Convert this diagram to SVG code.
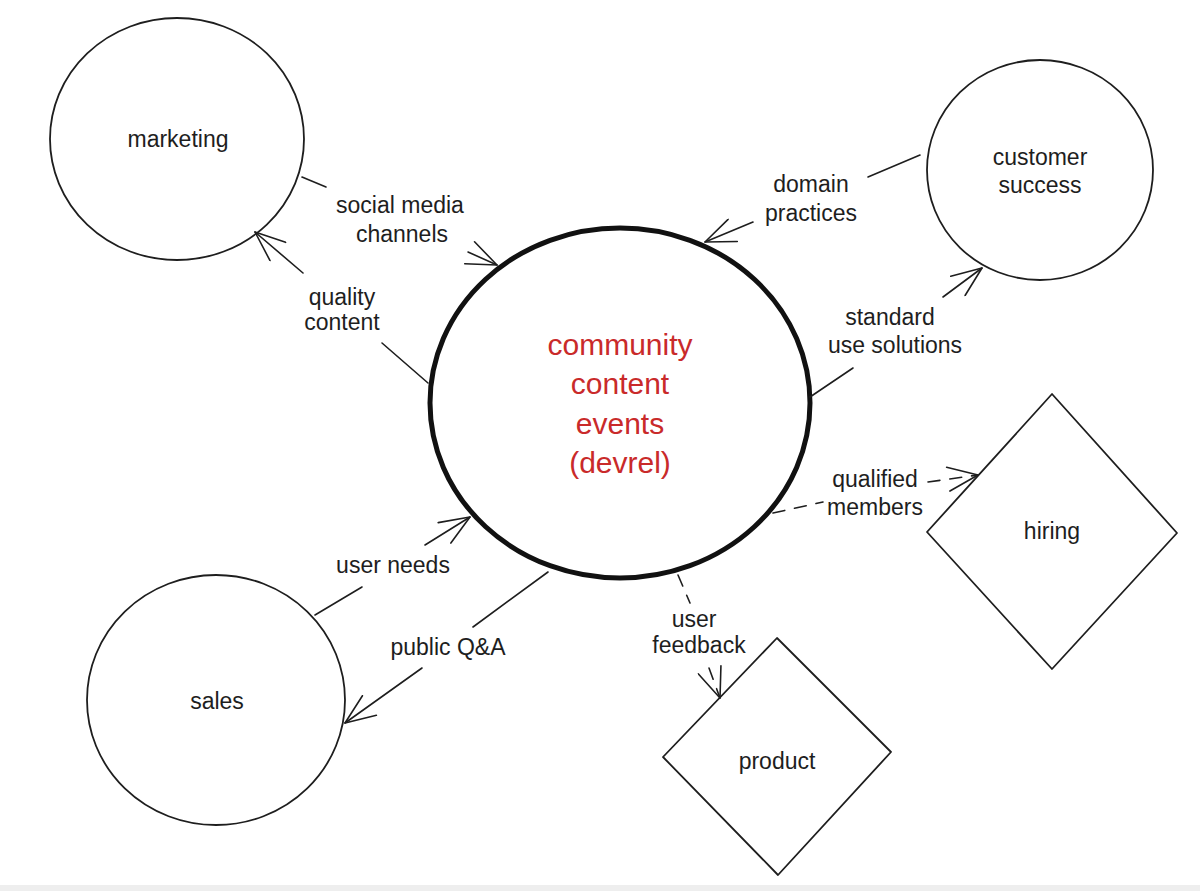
<svg xmlns="http://www.w3.org/2000/svg" width="1200" height="891" viewBox="0 0 1200 891">
  <style>
    .node { fill: none; stroke: #1e1e1e; stroke-width: 1.8; stroke-linejoin: round; }
    .core { fill: none; stroke: #111; stroke-width: 5; }
    .lbl { font-family: "Liberation Sans", "Noto Sans", sans-serif; font-size: 23px; fill: #1e1e1e; text-anchor: middle; }
    .red { font-family: "Liberation Sans", "Noto Sans", sans-serif; font-size: 30px; fill: #c92a2a; text-anchor: middle; }
    .edge { fill: none; stroke: #1e1e1e; stroke-width: 1.6; stroke-linecap: round; }
    .dash { stroke-dasharray: 12 10; }
  </style>
  <defs>
    <marker id="arrow" markerUnits="userSpaceOnUse" viewBox="0 0 34 26" markerWidth="34" markerHeight="26" refX="32" refY="13" orient="auto">
      <path d="M2,1 L32,13 L2,25" fill="none" stroke="#1e1e1e" stroke-width="1.6" stroke-linecap="round" stroke-linejoin="round"/>
    </marker>
  </defs>
  <rect x="0" y="0" width="1200" height="891" fill="#ffffff"/>
  <rect x="0" y="885" width="1200" height="6" fill="#eeeeee"/>

  <g id="marketing">
    <ellipse class="node" cx="177" cy="139" rx="127" ry="121"/>
    <text class="lbl" x="178" y="147">marketing</text>
  </g>
  <g id="customer-success">
    <ellipse class="node" cx="1040" cy="170" rx="113" ry="110"/>
    <text class="lbl" x="1040" y="165">customer</text>
    <text class="lbl" x="1040" y="193">success</text>
  </g>
  <g id="sales">
    <ellipse class="node" cx="216" cy="700" rx="129" ry="125"/>
    <text class="lbl" x="217" y="709">sales</text>
  </g>
  <g id="hiring">
    <polygon class="node" points="1052,394 1177,533 1052,669 927,532"/>
    <text class="lbl" x="1052" y="539">hiring</text>
  </g>
  <g id="product">
    <polygon class="node" points="777,638 891,752 778,875 663,757"/>
    <text class="lbl" x="777" y="769">product</text>
  </g>
  <g id="devrel">
    <ellipse class="core" cx="620" cy="403" rx="190" ry="175"/>
    <text class="red" x="620" y="355">community</text>
    <text class="red" x="620" y="394">content</text>
    <text class="red" x="620" y="434">events</text>
    <text class="red" x="620" y="473">(devrel)</text>
  </g>

  <g id="connectors">
    <!-- marketing -> devrel : social media channels -->
    <path class="edge" d="M302,177 L326,187"/>
    <path class="edge" d="M468,252 L497,265" marker-end="url(#arrow)"/>
    <text class="lbl" x="400" y="213">social media</text>
    <text class="lbl" x="402" y="242">channels</text>

    <!-- devrel -> marketing : quality content -->
    <path class="edge" d="M428,383 L382,343"/>
    <path class="edge" d="M303,273 L255,232" marker-end="url(#arrow)"/>
    <text class="lbl" x="342" y="305">quality</text>
    <text class="lbl" x="342" y="330">content</text>

    <!-- customer success -> devrel : domain practices -->
    <path class="edge" d="M920,155 L868,177"/>
    <path class="edge" d="M753,222 L705,242" marker-end="url(#arrow)"/>
    <text class="lbl" x="811" y="192">domain</text>
    <text class="lbl" x="811" y="221">practices</text>

    <!-- devrel -> customer success : standard use solutions -->
    <path class="edge" d="M810,397 L853,368"/>
    <path class="edge" d="M943,297 L982,268" marker-end="url(#arrow)"/>
    <text class="lbl" x="890" y="325">standard</text>
    <text class="lbl" x="895" y="353">use solutions</text>

    <!-- devrel -> hiring : qualified members (dashed) -->
    <path class="edge dash" d="M773,513 L823,502"/>
    <path class="edge dash" d="M928,482 L978,475" marker-end="url(#arrow)"/>
    <text class="lbl" x="875" y="487">qualified</text>
    <text class="lbl" x="875" y="515">members</text>

    <!-- devrel -> product : user feedback (dashed) -->
    <path class="edge dash" d="M678,575 L690,603"/>
    <path class="edge dash" d="M709,668 L720,698" marker-end="url(#arrow)"/>
    <text class="lbl" x="694" y="627">user</text>
    <text class="lbl" x="699" y="653">feedback</text>

    <!-- sales -> devrel : user needs -->
    <path class="edge" d="M315,615 L362,587"/>
    <path class="edge" d="M425,545 L470,517" marker-end="url(#arrow)"/>
    <text class="lbl" x="393" y="573">user needs</text>

    <!-- devrel -> sales : public Q&A -->
    <path class="edge" d="M548,572 L473,627"/>
    <path class="edge" d="M422,668 L345,723" marker-end="url(#arrow)"/>
    <text class="lbl" x="448" y="655">public Q&amp;A</text>
  </g>
</svg>
